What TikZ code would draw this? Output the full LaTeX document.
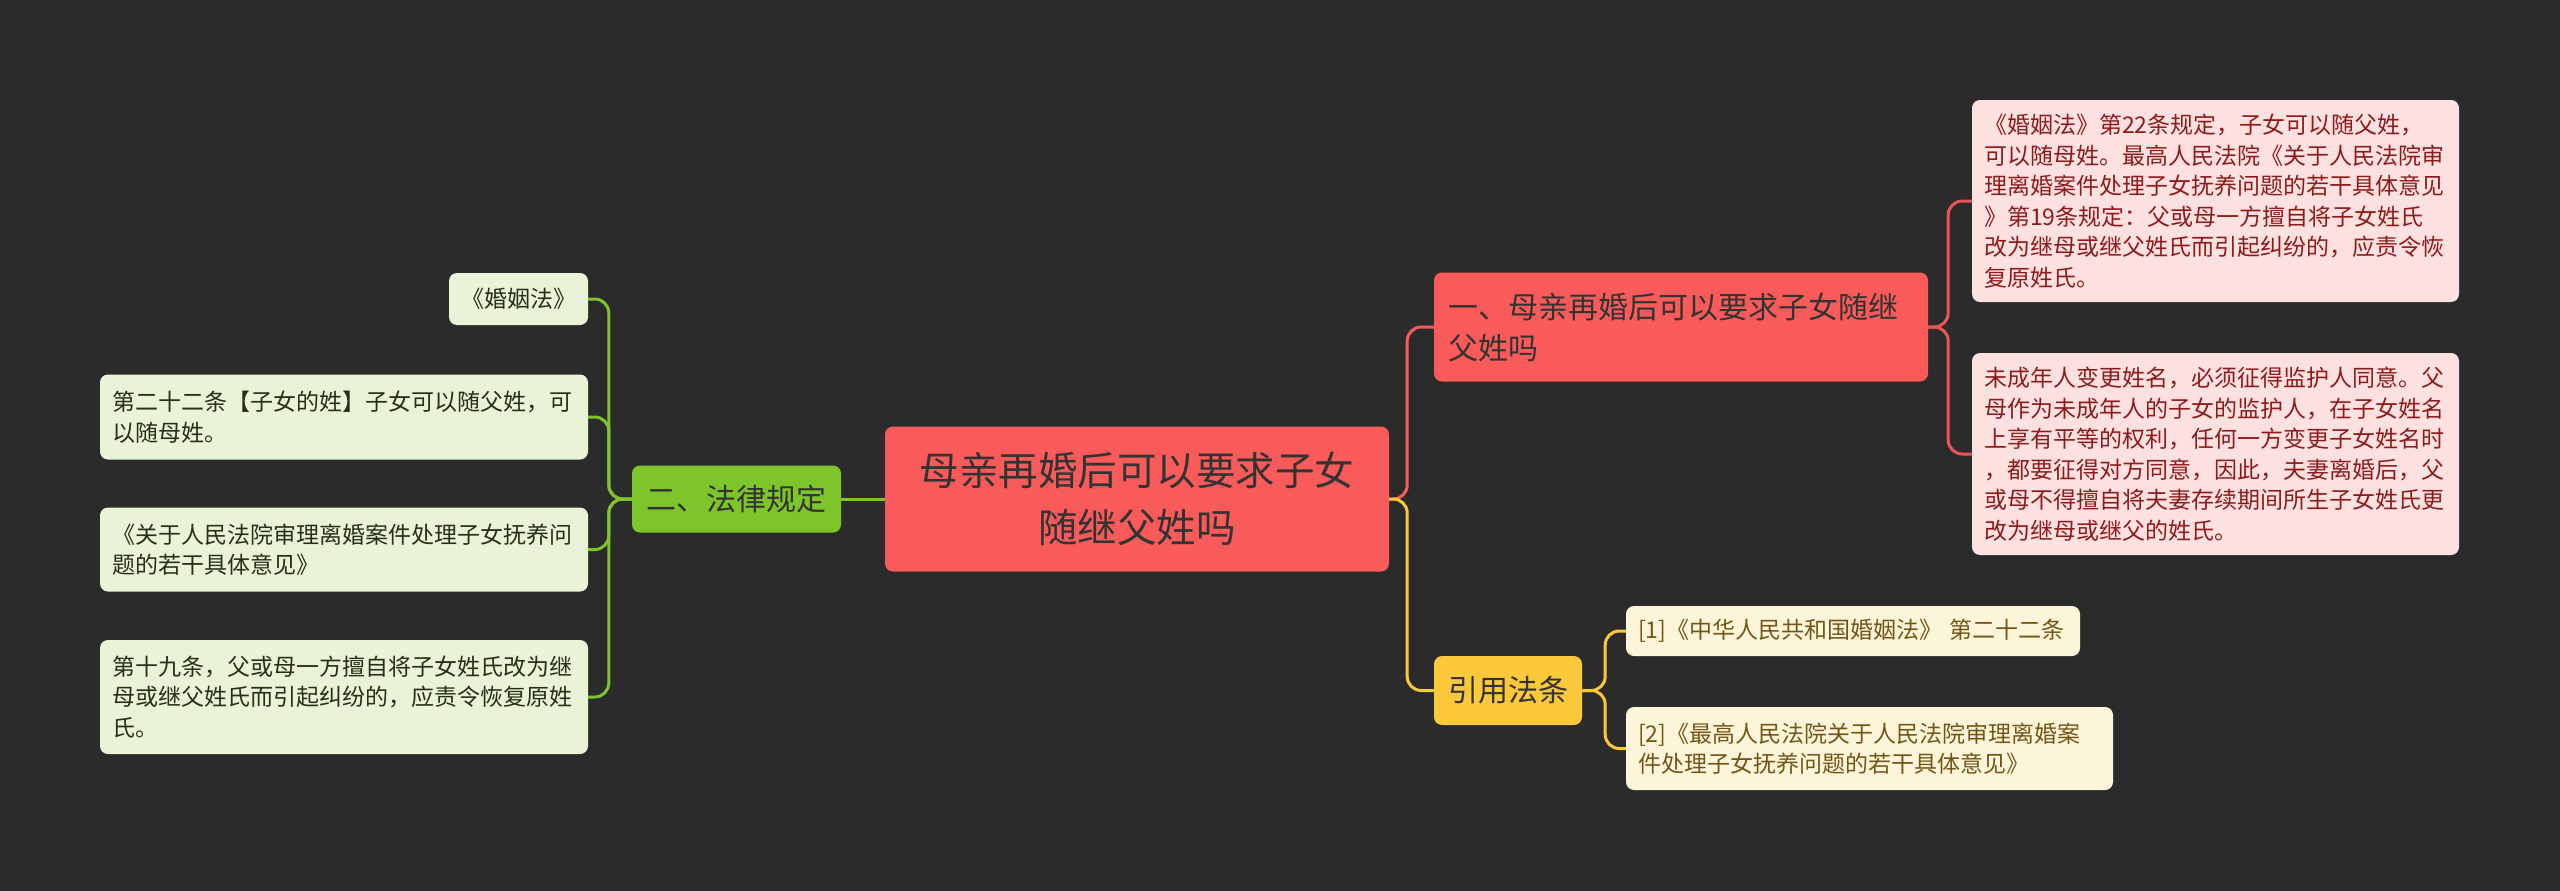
\documentclass[tikz,border=0pt]{standalone}
\usepackage{fontspec}
\newfontfamily\cjk{Noto Sans CJK SC}
\usetikzlibrary{positioning}
\definecolor{bgdark}{HTML}{2B2B2B}
\definecolor{mainred}{HTML}{F95A5A}
\definecolor{txtdark}{HTML}{333333}
\definecolor{leafred}{HTML}{FDE1E1}
\definecolor{txtred}{HTML}{8E1B1B}
\definecolor{lawgreen}{HTML}{7DC52B}
\definecolor{leafgreen}{HTML}{E8F3D7}
\definecolor{txtgreen}{HTML}{263019}
\definecolor{citeyellow}{HTML}{FAC83A}
\definecolor{leafyellow}{HTML}{FDF5DA}
\definecolor{txtyellow}{HTML}{735616}

\begin{document}
\begin{tikzpicture}[x=1pt, y=-1pt,
    box/.style={rounded corners=8, inner ysep=0},
    topic/.style={box, fill=mainred, text=txtdark, align=center, inner xsep=20,
        text width=464, minimum height=145, font=\cjk\fontsize{39.5}{57}\selectfont},
    branch/.style={box, text=txtdark, inner xsep=14, font=\cjk\fontsize{30}{41}\selectfont},
    leaf/.style={box, inner xsep=12, align=left, font=\cjk\fontsize{23}{30.5}\selectfont},
    redleaf/.style={leaf, fill=leafred, text=txtred, text width=463, minimum height=202},
    greenleaf/.style={leaf, fill=leafgreen, text=txtgreen},
    yellowleaf/.style={leaf, fill=leafyellow, text=txtyellow},
    link/.style={line width=3, rounded corners=14}]
    % Background
    \fill[bgdark] (0,0) rectangle (2560,891);
    \useasboundingbox (0,0) rectangle (2560,891);
    % Centre
    \node[topic] (topic) at (1137,499) {母亲再婚后可以要求子女\\随继父姓吗};
    % Branch one and its notes
    \node[branch, fill=mainred, align=left, text width=466, minimum height=109] (answer) at (1681,327)
        {一、母亲再婚后可以要求子女随继\\父姓吗};
    \node[redleaf] (note1) at (2215.5,201)
        {《婚姻法》第22条规定，子女可以随父姓，\\可以随母姓。最高人民法院《关于人民法院审\\理离婚案件处理子女抚养问题的若干具体意见\\》第19条规定：父或母一方擅自将子女姓氏\\改为继母或继父姓氏而引起纠纷的，应责令恢\\复原姓氏。};
    \node[redleaf] (note2) at (2215.5,454)
        {未成年人变更姓名，必须征得监护人同意。父\\母作为未成年人的子女的监护人，在子女姓名\\上享有平等的权利，任何一方变更子女姓名时\\，都要征得对方同意，因此，夫妻离婚后，父\\或母不得擅自将夫妻存续期间所生子女姓氏更\\改为继母或继父的姓氏。};
    % Branch two (left) and its notes
    \node[branch, fill=lawgreen, align=center, text width=181, minimum height=67] (law) at (736.5,499)
        {二、法律规定};
    \node[greenleaf, align=center, text width=115, minimum height=52] (law1) at (518.5,299) {《婚姻法》};
    \node[greenleaf, text width=464, minimum height=85] (law2) at (344,417)
        {第二十二条【子女的姓】子女可以随父姓，可\\以随母姓。};
    \node[greenleaf, text width=464, minimum height=84] (law3) at (344,549.5)
        {《关于人民法院审理离婚案件处理子女抚养问\\题的若干具体意见》};
    \node[greenleaf, text width=464, minimum height=114] (law4) at (344,697)
        {第十九条，父或母一方擅自将子女姓氏改为继\\母或继父姓氏而引起纠纷的，应责令恢复原姓\\氏。};
    % Branch three and its sources
    \node[branch, fill=citeyellow, align=center, text width=120, minimum height=69] (cite) at (1508,690.5)
        {引用法条};
    \node[yellowleaf, text width=430, minimum height=50] (cite1) at (1853,631)
        {[1]《中华人民共和国婚姻法》 第二十二条};
    \node[yellowleaf, text width=463, minimum height=83] (cite2) at (1869.5,748.5)
        {[2]《最高人民法院关于人民法院审理离婚案\\件处理子女抚养问题的若干具体意见》};
    % Links
    \draw[link, lawgreen] (topic.west) -- (law.east);
    \foreach \n in {law1, law2, law3, law4}
        \draw[link, lawgreen] (law.west) -- ++(-23,0) |- (\n.east);
    \draw[link, mainred] (topic.east) -- ++(18,0) |- (answer.west);
    \draw[link, citeyellow] (topic.east) -- ++(18,0) |- (cite.west);
    \foreach \n in {note1, note2}
        \draw[link, mainred!95!black] (answer.east) -- ++(20,0) |- (\n.west);
    \foreach \n in {cite1, cite2}
        \draw[link, citeyellow] (cite.east) -- ++(23,0) |- (\n.west);
\end{tikzpicture}
\end{document}
